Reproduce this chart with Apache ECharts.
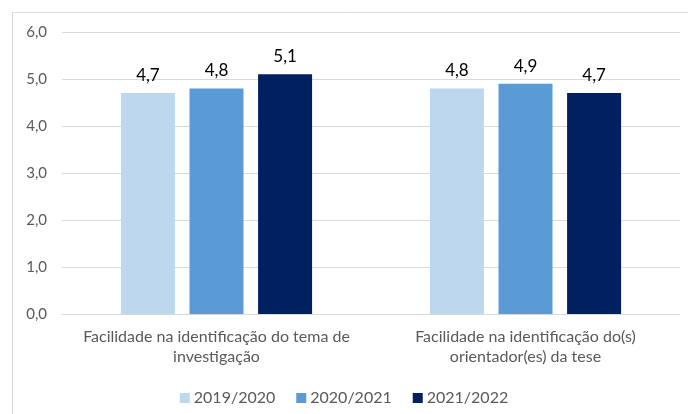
<!DOCTYPE html>
<html>
<head>
<meta charset="utf-8">
<script src="https://cdn.jsdelivr.net/npm/echarts@6/dist/echarts.min.js"></script>
<style>
  html, body { margin: 0; padding: 0; background: #fff; }
  #chart { width: 688px; height: 414px; }
</style>
</head>
<body>
<div id="chart"></div>
<script>
var categories = [
  'Facilidade na identificação do tema de\ninvestigação',
  'Facilidade na identificação do(s)\norientador(es) da tese'
];
var seriesNames = ['2019/2020', '2020/2021', '2021/2022'];
var values2019 = [4.7, 4.8];
var values2020 = [4.8, 4.9];
var values2021 = [5.1, 4.7];
var yTicks = [0, 1, 2, 3, 4, 5, 6];

var colors = ['#BDD7EE', '#5B9BD5', '#002060'];
var font = 'Lato, "Open Sans", sans-serif';

function fmt(v) {
  return v.toFixed(1).replace('.', ',');
}

function makeSeries(name, data, i) {
  return {
    name: name,
    type: 'bar',
    data: data,
    barWidth: 54,
    barGap: '27%',
    itemStyle: { color: colors[i] },
    label: {
      show: true,
      position: 'top',
      distance: 9,
      color: '#000',
      fontSize: 17,
      fontFamily: font,
      formatter: function (p) { return fmt(p.value); }
    }
  };
}

var myChart = echarts.init(document.getElementById('chart'));
myChart.setOption({
  animation: false,
  textStyle: { fontFamily: font },
  graphic: [{
    type: 'rect',
    shape: { x: 12.5, y: 12.5, width: 700, height: 420 },
    style: { fill: 'none', stroke: '#d9d9d9', lineWidth: 1 },
    silent: true
  }],
  grid: { left: 62, right: 8, top: 32, height: 282 },
  legend: {
    top: 385,
    left: 'center',
    itemWidth: 10,
    itemHeight: 10,
    itemGap: 21,
    icon: 'rect',
    textStyle: { color: '#595959', fontSize: 16, fontFamily: font, padding: [0, 0, 0, -1] },
    data: seriesNames
  },
  xAxis: {
    type: 'category',
    data: categories,
    axisLine: { lineStyle: { color: '#d9d9d9' } },
    axisTick: { show: false },
    axisLabel: {
      color: '#595959',
      fontSize: 16,
      fontFamily: font,
      lineHeight: 20,
      margin: 13,
      interval: 0
    }
  },
  yAxis: {
    type: 'value',
    min: yTicks[0],
    max: yTicks[yTicks.length - 1],
    interval: 1,
    axisLine: { show: false },
    axisTick: { show: false },
    splitLine: { lineStyle: { color: '#d9d9d9' } },
    axisLabel: {
      color: '#595959',
      fontSize: 15,
      fontFamily: font,
      margin: 15,
      formatter: function (v) { return fmt(v); }
    }
  },
  series: [
    makeSeries(seriesNames[0], values2019, 0),
    makeSeries(seriesNames[1], values2020, 1),
    makeSeries(seriesNames[2], values2021, 2)
  ]
});

window.addEventListener('resize', function () {
  myChart.resize();
});
</script>
</body>
</html>
